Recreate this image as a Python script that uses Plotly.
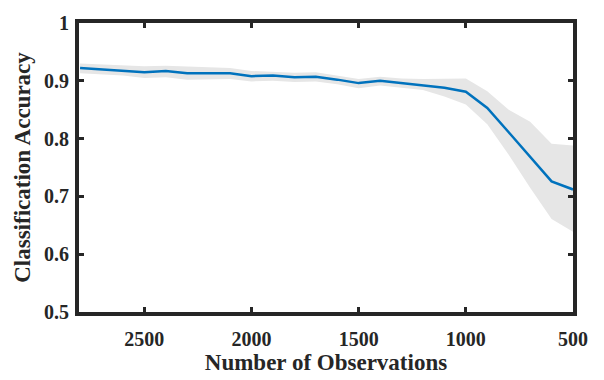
import plotly.graph_objects as go

observations = [2800, 2700, 2600, 2500, 2400, 2300, 2200, 2100, 2000, 1900, 1800, 1700,
                1600, 1500, 1400, 1300, 1200, 1100, 1000, 900, 800, 700, 600, 500]
mean_acc = [0.922, 0.920, 0.918, 0.915, 0.917, 0.913, 0.913, 0.913, 0.908, 0.909, 0.906, 0.907,
            0.902, 0.896, 0.900, 0.896, 0.893, 0.888, 0.881, 0.853, 0.811, 0.768, 0.726, 0.712]
upper_acc = [0.930, 0.928, 0.926, 0.925, 0.926, 0.925, 0.924, 0.922, 0.917, 0.916, 0.914, 0.915,
             0.909, 0.903, 0.907, 0.904, 0.903, 0.903, 0.904, 0.882, 0.850, 0.829, 0.791, 0.788]
lower_acc = [0.913, 0.911, 0.909, 0.905, 0.906, 0.902, 0.903, 0.903, 0.899, 0.900, 0.898, 0.899,
             0.894, 0.887, 0.892, 0.888, 0.884, 0.873, 0.859, 0.825, 0.772, 0.715, 0.661, 0.639]
x_ticks = [2500, 2000, 1500, 1000, 500]
y_ticks = [0.5, 0.6, 0.7, 0.8, 0.9, 1.0]
y_ticklabels = ["0.5", "0.6", "0.7", "0.8", "0.9", "1"]

fig = go.Figure()
fig.add_trace(go.Scatter(x=observations + observations[::-1],
                         y=upper_acc + lower_acc[::-1],
                         fill="toself", fillcolor="#e6e6e6",
                         line=dict(width=0), mode="lines",
                         hoverinfo="skip", showlegend=False))
fig.add_trace(go.Scatter(x=observations, y=mean_acc, mode="lines",
                         line=dict(color="#0072BD", width=2.5),
                         showlegend=False))

ink = "#262626"
tick_font = dict(family="Liberation Serif", size=20, color=ink, weight="bold")
title_font = dict(family="Liberation Serif", size=23, color=ink, weight="bold")
axis_common = dict(showline=True, linewidth=4, linecolor=ink, mirror="ticks",
                   ticks="inside", ticklen=5, tickwidth=2.5, tickcolor=ink,
                   showgrid=False, zeroline=False, tickfont=tick_font)

fig.update_layout(
    width=604, height=380,
    margin=dict(l=79, r=31, t=14, b=68),
    plot_bgcolor="white", paper_bgcolor="white",
    font=dict(family="Liberation Serif", size=20, color=ink),
    xaxis=dict(range=[2805, 500], tickvals=x_ticks, ticklabelstandoff=6,
               title=dict(text="Number of Observations", font=title_font, standoff=2),
               **axis_common),
    yaxis=dict(range=[0.5, 1.0], tickvals=y_ticks, ticktext=y_ticklabels,
               ticklabelstandoff=2,
               title=dict(text="Classification Accuracy", font=title_font, standoff=8),
               **axis_common),
)

fig.write_html("out.html")
